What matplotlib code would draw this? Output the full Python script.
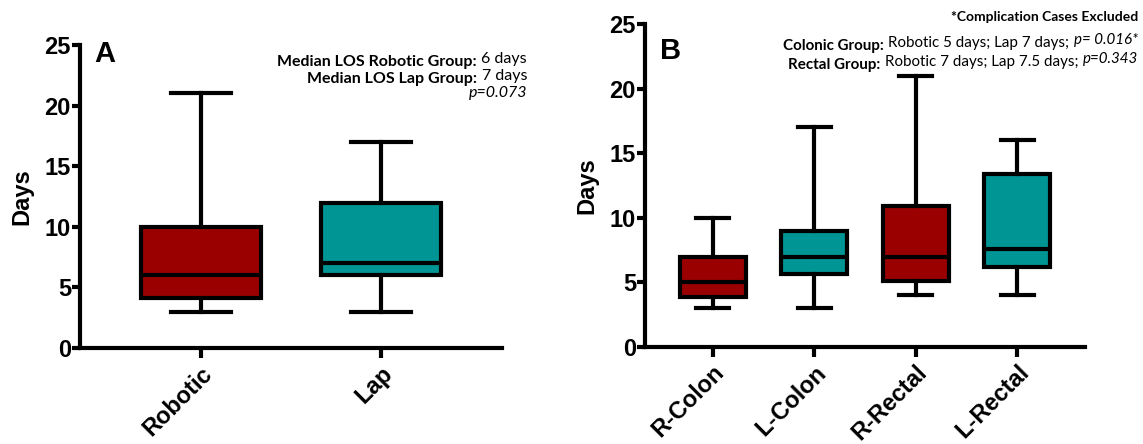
import matplotlib
matplotlib.use("Agg")
import matplotlib.pyplot as plt
from matplotlib.text import OffsetFrom

# ---- data ----
cats_a = ["Robotic", "Lap"]
wlo_a = [3, 3]
q1_a = [4.1, 6.0]
med_a = [6, 7]
q3_a = [10, 12]
whi_a = [21, 17]
colors_a = ["#9b0000", "#009595"]

cats_b = ["R-Colon", "L-Colon", "R-Rectal", "L-Rectal"]
wlo_b = [3, 3, 4, 4]
q1_b = [3.9, 5.65, 5.1, 6.2]
med_b = [5, 7, 7, 7.6]
q3_b = [7, 9, 10.9, 13.4]
whi_b = [10, 17, 21, 16]
colors_b = ["#9b0000", "#009595", "#9b0000", "#009595"]

yticks = [0, 5, 10, 15, 20, 25]

W, H = 1143, 444
fig = plt.figure(figsize=(W / 100, H / 100), dpi=100)

def px_axes(l, r, b, t):
    return fig.add_axes([l / W, 1 - b / H, (r - l) / W, (b - t) / H])

LW = 3.0
TICKFONT = dict(family="Liberation Sans", weight="bold", size=17)

def draw(ax, cats, wlo, q1, med, q3, whi, colors, width, xlim):
    stats = []
    for c, a, b, m, d, e in zip(cats, wlo, q1, med, q3, whi):
        stats.append(dict(label=c, whislo=a, q1=b, med=m, q3=d, whishi=e, fliers=[]))
    pos = list(range(1, len(cats) + 1))
    bp = ax.bxp(stats, positions=pos, widths=width, capwidths=width * 0.5,
                patch_artist=True, showfliers=False,
                boxprops=dict(linewidth=LW, edgecolor="black"),
                medianprops=dict(linewidth=LW, color="black"),
                whiskerprops=dict(linewidth=LW, color="black"),
                capprops=dict(linewidth=LW, color="black"))
    for patch, col in zip(bp["boxes"], colors):
        patch.set_facecolor(col)
    ax.set_xlim(*xlim)
    ax.set_ylim(0, 25)
    ax.set_yticks(yticks)
    ax.set_yticklabels([str(v) for v in yticks], **TICKFONT)
    ax.set_xticks(pos)
    ax.set_xticklabels(cats, rotation=45, ha="right", rotation_mode="anchor", **TICKFONT)
    for s in ["top", "right"]:
        ax.spines[s].set_visible(False)
    for s in ["left", "bottom"]:
        ax.spines[s].set_linewidth(LW)
    ax.tick_params(axis="y", direction="out", width=LW, length=6, pad=0.5)
    ax.tick_params(axis="x", direction="out", width=LW, length=7, pad=3)
    ax.set_ylabel("Days", family="Liberation Sans", weight="bold", size=17, labelpad=8)
    ax.set_facecolor("none")

axA = px_axes(80, 502, 348, 45)
draw(axA, cats_a, wlo_a, q1_a, med_a, q3_a, whi_a, colors_a, 0.665, (0.33, 2.67))
axB = px_axes(645, 1085, 347, 24)
draw(axB, cats_b, wlo_b, q1_b, med_b, q3_b, whi_b, colors_b, 0.65, (0.33, 4.67))

axA.text(0.035, 1.015, "A", transform=axA.transAxes, family="Liberation Sans",
         weight="bold", size=21, va="top", ha="left")
axB.text(0.035, 0.96, "B", transform=axB.transAxes, family="Liberation Sans",
         weight="bold", size=21, va="top", ha="left")

AF = "Lato"

def mixed(xr, y, parts, size):
    prev = None
    for txt, st in reversed(parts):
        kw = dict(family=AF, size=size, va="baseline", ha="right")
        if st == "b":
            kw["weight"] = "bold"
        elif st == "i":
            kw["style"] = "italic"
        if prev is None:
            prev = fig.text(xr / W, 1 - y / H, txt, **kw)
        else:
            prev = axA.annotate(txt, xy=(0, 0), xycoords=OffsetFrom(prev, (0, 0)),
                                xytext=(-3.2, 0), textcoords="offset points",
                                annotation_clip=False, **kw)

# Panel A annotations
mixed(527, 63, [("Median LOS Robotic Group:", "b"), ("6 days", "r")], 11.5)
mixed(527, 80, [("Median LOS Lap Group:", "b"), ("7 days", "r")], 11.5)
mixed(527, 97, [("p=0.073", "i")], 11.5)

# Panel B annotations
fig.text(1138 / W, 1 - 21 / H, "*Complication Cases Excluded", family=AF, size=10,
         weight="bold", ha="right", va="baseline")
mixed(1138, 44, [("Colonic Group:", "b"), ("Robotic 5 days; Lap 7 days;", "r"), ("p= 0.016*", "i")], 10.9)
mixed(1138, 63, [("Rectal Group:", "b"), ("Robotic 7 days; Lap 7.5 days;", "r"), ("p=0.343", "i")], 10.9)

fig.savefig("out.png", dpi=100)
